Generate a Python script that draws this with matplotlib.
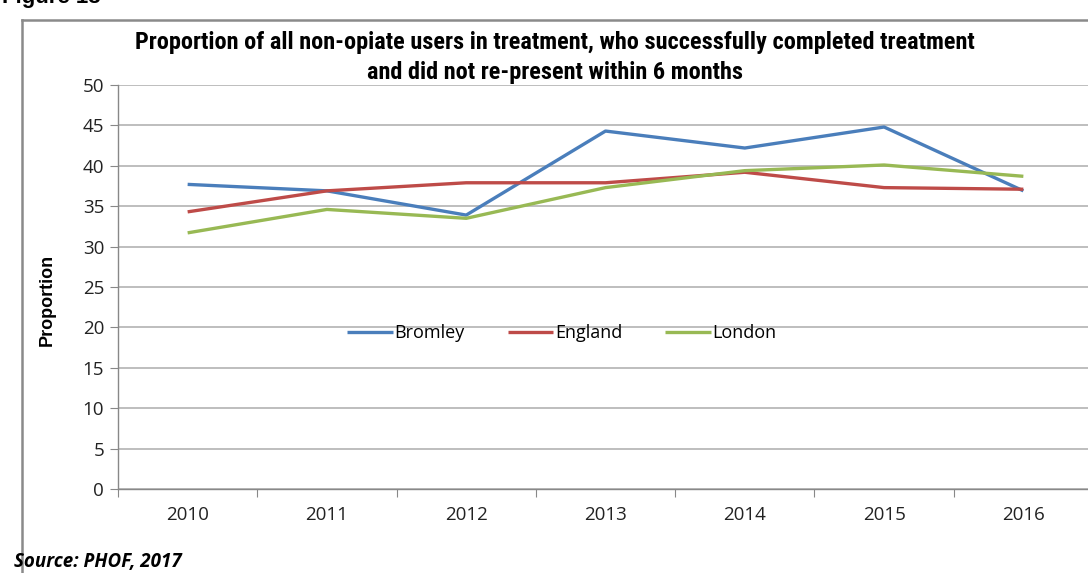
import matplotlib
matplotlib.use("Agg")
import matplotlib.pyplot as plt
from matplotlib.lines import Line2D

years = ["2010", "2011", "2012", "2013", "2014", "2015", "2016"]
bromley = [37.7, 36.9, 33.9, 44.3, 42.2, 44.8, 36.9]
england = [34.3, 36.9, 37.9, 37.9, 39.2, 37.3, 37.1]
london = [31.7, 34.6, 33.5, 37.3, 39.4, 40.1, 38.7]
yticks = list(range(0, 55, 5))

W, H = 1088, 573
fig = plt.figure(figsize=(W / 100, H / 100), dpi=100)
fig.patch.set_facecolor("white")

ax = fig.add_axes([118 / W, 1 - 489 / H, 975 / W, (489 - 85) / H])
x = list(range(len(years)))
ax.plot(x, bromley, color="#4a7ebb", lw=2.4, label="Bromley", solid_capstyle="butt")
ax.plot(x, england, color="#be4b48", lw=2.4, label="England", solid_capstyle="butt")
ax.plot(x, london, color="#98b954", lw=2.4, label="London", solid_capstyle="butt")

ax.set_xlim(-0.5, len(years) - 0.5)
ax.set_ylim(0, 50)
ax.set_yticks(yticks)
ax.set_yticklabels([str(v) for v in yticks])
ax.set_xticks([i + 0.5 for i in range(-1, len(years))], minor=False)
ax.set_xticklabels([""] * (len(years) + 1))
ax.set_xticks(x, minor=True)
ax.set_xticklabels(years, minor=True)
ax.tick_params(axis="x", which="minor", length=0, pad=12, labelsize=13.5, labelcolor="#222222")
ax.tick_params(axis="x", which="major", length=6, color="#888888", direction="out")
ax.tick_params(axis="y", length=6, color="#888888", labelsize=13.5, labelcolor="#222222", pad=4)
for lab in ax.get_xticklabels(minor=True) + ax.get_yticklabels():
    lab.set_family(["Open Sans", "DejaVu Sans"])

ax.grid(axis="y", color="#b3b3b3", lw=1.2)
ax.set_axisbelow(True)
for s in ["top", "right"]:
    ax.spines[s].set_visible(False)
for s in ["left", "bottom"]:
    ax.spines[s].set_color("#888888")
    ax.spines[s].set_linewidth(1.0)

fig.text(47 / W, 1 - 300 / H, "Proportion", rotation=90, ha="center", va="center",
         fontsize=13, fontweight="bold", family=["Liberation Sans", "DejaVu Sans"])

leg = ax.legend(loc="center", bbox_to_anchor=((562 - 118) / 975, (489 - 333) / 404), ncol=3,
                frameon=False, handlelength=2.5, handletextpad=0.1,
                columnspacing=2.4, prop={"family": ["Open Sans", "DejaVu Sans"], "size": 13})

title_font = ["Liberation Sans Narrow", "Roboto Condensed", "Liberation Sans", "DejaVu Sans"]
fig.text(555 / W, 1 - 42 / H, "Proportion of all non-opiate users in treatment, who successfully completed treatment",
         ha="center", va="center", fontsize=17.5, fontweight="bold", family=title_font)
fig.text(555 / W, 1 - 72 / H, "and did not re-present within 6 months",
         ha="center", va="center", fontsize=17.5, fontweight="bold", family=title_font)

fig.text(14 / W, 1 - 562 / H, "Source: PHOF, 2017", ha="left", va="center", fontsize=13.5,
         fontweight="bold", fontstyle="italic", family=["Open Sans", "DejaVu Sans"])
fig.text(2 / W, 1 - 3 / H, "Figure 13", ha="left", va="baseline", fontsize=16,
         fontweight="bold", family=["Liberation Sans", "DejaVu Sans"])

fig.add_artist(Line2D([22 / W, 22 / W], [0, 1 - 20 / H], color="#8a8a8a", lw=1.8, transform=fig.transFigure))
fig.add_artist(Line2D([22 / W, 1], [1 - 20 / H, 1 - 20 / H], color="#8a8a8a", lw=1.8, transform=fig.transFigure))

fig.savefig("out.png", dpi=100, facecolor="white")
